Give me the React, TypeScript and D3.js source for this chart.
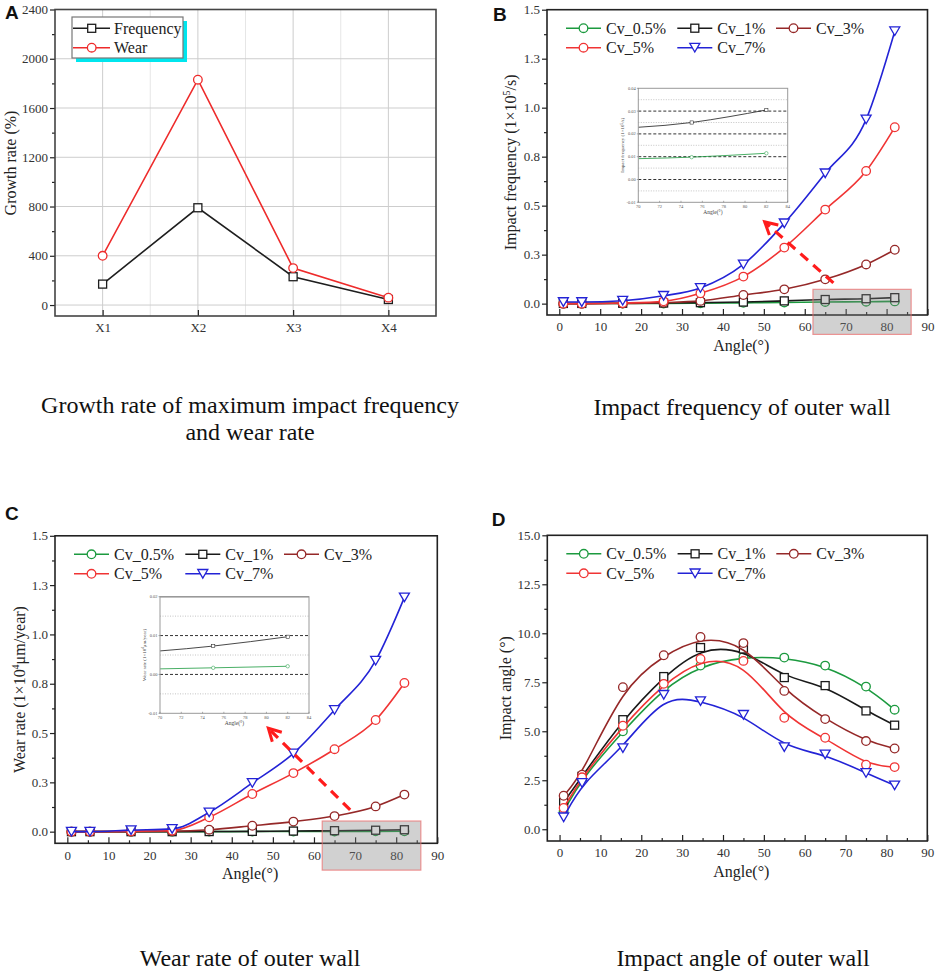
import { useEffect, useRef } from 'react';
import * as d3 from 'd3';

// ---------- panel A: growth rate ----------
const groups = ['X1', 'X2', 'X3', 'X4'];
const growthFrequency = [170, 790, 230, 45];
const growthWear = [400, 1830, 300, 60];
const growthTicks = [0, 400, 800, 1200, 1600, 2000, 2400];
const growthMinor = [200, 600, 1000, 1400, 1800, 2200];

// ---------- panels B-D: angle series ----------
const angles = [1, 5.5, 15.5, 25.5, 34.5, 45, 55, 65, 75, 82];
const angleTicks = [0, 10, 20, 30, 40, 50, 60, 70, 80, 90];
const angleMinor = [5, 15, 25, 35, 45, 55, 65, 75, 85];
const cvNames = ['Cv_0.5%', 'Cv_1%', 'Cv_3%', 'Cv_5%', 'Cv_7%'];

// impact frequency (1e5 /s)
const freqCv05 = [0, 0, 0.001, 0.001, 0.002, 0.004, 0.006, 0.0085, 0.0098, 0.0115];
const freqCv1 = [0.001, 0.001, 0.002, 0.003, 0.005, 0.008, 0.014, 0.021, 0.025, 0.0305];
const freqCv3 = [0, 0, 0.001, 0.005, 0.014, 0.044, 0.073, 0.124, 0.2, 0.275];
const freqCv5 = [0, 0, 0.003, 0.012, 0.053, 0.138, 0.286, 0.48, 0.677, 0.9];
const freqCv7 = [0.008, 0.008, 0.015, 0.04, 0.08, 0.2, 0.41, 0.665, 0.94, 1.39];

// wear rate (1e4 um/year)
const wearCv05 = [0, 0, 0, 0, 0.0002, 0.0005, 0.0009, 0.0012, 0.0017, 0.0021];
const wearCv1 = [0, 0, 0, 0, 0.0005, 0.0015, 0.003, 0.005, 0.0073, 0.0097];
const wearCv3 = [0, 0, 0, 0.002, 0.01, 0.03, 0.051, 0.079, 0.128, 0.188];
const wearCv5 = [0, 0, 0.002, 0.006, 0.073, 0.191, 0.297, 0.418, 0.566, 0.754];
const wearCv7 = [0, 0, 0.008, 0.014, 0.098, 0.247, 0.397, 0.617, 0.867, 1.188];

// impact angle (deg)
const angleCv05 = [0.92, 2.6, 5.0, 7.2, 8.35, 8.8, 8.76, 8.35, 7.28, 6.1];
const angleCv1 = [1.37, 2.7, 5.59, 7.79, 9.27, 9.2, 7.74, 7.33, 6.04, 5.31];
const angleCv3 = [1.71, 2.78, 7.25, 8.88, 9.81, 9.5, 7.06, 5.62, 4.5, 4.12];
const angleCv5 = [1.09, 2.65, 5.28, 7.42, 8.69, 8.59, 5.69, 4.67, 3.29, 3.17];
const angleCv7 = [0.61, 2.36, 4.14, 6.86, 6.54, 5.84, 4.19, 3.82, 2.87, 2.24];

const rateTicks = [0, 0.25, 0.5, 0.75, 1, 1.25, 1.5];
const rateTickLabels = ['0.0', '0.3', '0.5', '0.8', '1.0', '1.3', '1.5'];
const rateMinor = [0.125, 0.375, 0.625, 0.875, 1.125, 1.375];
const impactTicks = [0, 2.5, 5, 7.5, 10, 12.5, 15];
const impactTickLabels = ['0.0', '2.5', '5.0', '7.5', '10.0', '12.5', '15.0'];
const impactMinor = [1.25, 3.75, 6.25, 8.75, 11.25, 13.75];

// insets (zoom on 70-84 deg)
const insetAngleTicks = [70, 72, 74, 76, 78, 80, 82, 84];
const insetFreqTicks = [-0.01, 0, 0.01, 0.02, 0.03, 0.04];
const insetFreqLabels = ['-0.01', '0.00', '0.01', '0.02', '0.03', '0.04'];
const insetFreqMinor = [-0.005, 0.005, 0.015, 0.025, 0.035];
const insetWearTicks = [-0.01, 0, 0.01, 0.02];
const insetWearLabels = ['-0.01', '0.00', '0.01', '0.02'];
const insetWearMinor = [-0.005, 0.005, 0.015];

const cvColors = ['#1c9a3f', '#1a1a1a', '#952828', '#f03434', '#2323d6'];
const cvShapes = ['circle', 'square', 'circle', 'circle', 'triangle'];

const SERIF = '"Liberation Serif", "Times New Roman", serif';
const SANS = '"Liberation Sans", Arial, sans-serif';

type G = d3.Selection<SVGGElement, unknown, null, undefined>;
type Box = { l: number; t: number; r: number; b: number };

function marker(g: G, shape: string, cx: number, cy: number, color: string, s = 1) {
  if (shape === 'circle') {
    g.append('circle').attr('cx', cx).attr('cy', cy).attr('r', 4.3 * s)
      .attr('fill', '#fff').attr('stroke', color).attr('stroke-width', 1.3 * s);
  } else if (shape === 'square') {
    const h = 4 * s;
    g.append('rect').attr('x', cx - h).attr('y', cy - h).attr('width', 2 * h).attr('height', 2 * h)
      .attr('fill', '#fff').attr('stroke', color).attr('stroke-width', 1.3 * s);
  } else {
    const w = 5 * s;
    const h = 4.3 * s;
    g.append('path')
      .attr('d', `M${cx - w},${cy - h}L${cx + w},${cy - h}L${cx},${cy + h}Z`)
      .attr('fill', '#fff').attr('stroke', color).attr('stroke-width', 1.3 * s);
  }
}

function styleAxis(a: G) {
  a.select('.domain').remove();
  a.selectAll('line').attr('stroke', '#222').attr('stroke-width', 1.2);
  a.selectAll('text').attr('font-family', SERIF).attr('font-size', 13).attr('fill', '#333');
}

function drawAxes(
  g: G, box: Box,
  x: d3.ScaleLinear<number, number>, y: d3.ScaleLinear<number, number>,
  yTicks: number[], yLabels: string[], yMinor: number[],
  xTicks: number[], xLabels: string[], xMinor: number[], frame = '#222'
) {
  const left = g.append('g').attr('transform', `translate(${box.l},0)`)
    .call(d3.axisLeft(y).tickValues(yTicks).tickFormat((_, i) => yLabels[i])
      .tickSizeInner(5).tickSizeOuter(0).tickPadding(2));
  const leftMinor = g.append('g').attr('transform', `translate(${box.l},0)`)
    .call(d3.axisLeft(y).tickValues(yMinor).tickFormat(() => '').tickSizeInner(3).tickSizeOuter(0));
  const bottom = g.append('g').attr('transform', `translate(0,${box.b})`)
    .call(d3.axisBottom(x).tickValues(xTicks).tickFormat((_, i) => xLabels[i])
      .tickSizeInner(-6).tickSizeOuter(0).tickPadding(7));
  const bottomMinor = g.append('g').attr('transform', `translate(0,${box.b})`)
    .call(d3.axisBottom(x).tickValues(xMinor).tickFormat(() => '').tickSizeInner(-3).tickSizeOuter(0));
  [left, leftMinor, bottom, bottomMinor].forEach(styleAxis);
  g.append('rect').attr('x', box.l).attr('y', box.t)
    .attr('width', box.r - box.l).attr('height', box.b - box.t)
    .attr('fill', 'none').attr('stroke', frame).attr('stroke-width', 1.6);
}

function rotatedTitle(g: G, x: number, y: number, parts: [string, string?, string?]) {
  const t = g.append('text').attr('transform', `translate(${x},${y}) rotate(-90)`)
    .attr('text-anchor', 'middle').attr('font-family', SERIF).attr('font-size', 16).attr('fill', '#222');
  t.append('tspan').text(parts[0]);
  if (parts[1]) {
    t.append('tspan').attr('dy', -6).attr('font-size', 10).text(parts[1]);
    t.append('tspan').attr('dy', 6).text(parts[2] || '');
  }
  return t;
}

function letter(g: G, x: number, y: number, s: string) {
  g.append('text').attr('x', x).attr('y', y).attr('font-family', SANS)
    .attr('font-weight', 'bold').attr('font-size', 19).attr('fill', '#111').text(s);
}

function caption(g: G, x: number, y: number, s: string) {
  g.append('text').attr('x', x).attr('y', y).attr('text-anchor', 'middle')
    .attr('font-family', SERIF).attr('font-size', 24).attr('fill', '#111').text(s);
}

function drawGrowth(g: G) {
  const box: Box = { l: 55, t: 9.5, r: 436, b: 316 };
  const x = d3.scaleLinear().domain([0.5, 4.5]).range([box.l, box.r]);
  const y = d3.scaleLinear().domain([-89, 2400]).range([box.b, box.t]);
  const pos = groups.map((_, i) => i + 1);

  const grid = g.append('g');
  grid.selectAll('line.minor').data([1.5, 2.5, 3.5]).join('line').attr('class', 'minor')
    .attr('x1', (d) => x(d)).attr('x2', (d) => x(d)).attr('y1', box.t).attr('y2', box.b)
    .attr('stroke', '#e6e6e6').attr('stroke-width', 1);
  grid.selectAll('line.vx').data(pos).join('line').attr('class', 'vx')
    .attr('x1', (d) => x(d)).attr('x2', (d) => x(d)).attr('y1', box.t).attr('y2', box.b)
    .attr('stroke', '#cdcdcd').attr('stroke-width', 1);
  grid.selectAll('line.hy').data(growthTicks).join('line').attr('class', 'hy')
    .attr('x1', box.l).attr('x2', box.r).attr('y1', (d) => y(d)).attr('y2', (d) => y(d))
    .attr('stroke', '#cdcdcd').attr('stroke-width', 1);

  drawAxes(g, box, x, y, growthTicks, growthTicks.map(String), growthMinor, pos, groups, [], '#444');

  const line = d3.line<number>().x((_, i) => x(pos[i])).y((d) => y(d));
  const series = [
    { values: growthFrequency, color: '#1e1e1e', shape: 'square', name: 'Frequency' },
    { values: growthWear, color: '#ee2b2b', shape: 'circle', name: 'Wear' },
  ];
  series.forEach((s) => {
    g.append('path').datum(s.values).attr('d', line).attr('fill', 'none')
      .attr('stroke', s.color).attr('stroke-width', 1.6);
    s.values.forEach((v, i) => marker(g, s.shape, x(pos[i]), y(v), s.color));
  });

  // legend
  const lg = g.append('g');
  lg.append('rect').attr('x', 76).attr('y', 21).attr('width', 111).attr('height', 41).attr('fill', '#00e6ee');
  lg.append('rect').attr('x', 72).attr('y', 17).attr('width', 111).attr('height', 41)
    .attr('fill', '#fff').attr('stroke', '#777').attr('stroke-width', 1.2);
  series.forEach((s, i) => {
    const cy = 28.3 + i * 19.4;
    lg.append('line').attr('x1', 73).attr('x2', 110).attr('y1', cy).attr('y2', cy)
      .attr('stroke', s.color).attr('stroke-width', 1.6);
    marker(lg, s.shape, 91.7, cy, s.color);
    lg.append('text').attr('x', 114).attr('y', cy + 5.5).attr('font-family', SERIF)
      .attr('font-size', 16).attr('fill', '#222').text(s.name);
  });

  rotatedTitle(g, 16, 163, ['Growth rate (%)']);
  letter(g, 5, 18.5, 'A');
}

interface InsetCfg {
  box: Box;
  yDomain: [number, number];
  yTicks: number[];
  yLabels: string[];
  yMinor: number[];
  title: [string, string, string];
  solidTop?: boolean;
}

interface PanelCfg {
  id: string;
  box: Box;
  yDomain: [number, number];
  yTicks: number[];
  yLabels: string[];
  yMinor: number[];
  series: number[][];
  curve: d3.CurveFactory;
  title: [string, string?, string?];
  titleX: number;
  letter: [number, number, string];
  highlight?: { x: [number, number]; y: [number, number] };
  arrow?: { from: [number, number]; to: [number, number] };
  inset?: InsetCfg;
}

function drawInset(g: G, id: string, cfg: InsetCfg, series: number[][], curve: d3.CurveFactory) {
  const { box } = cfg;
  const x = d3.scaleLinear().domain([70, 84]).range([box.l, box.r]);
  const y = d3.scaleLinear().domain(cfg.yDomain).range([box.b, box.t]);
  const ig = g.append('g');
  ig.append('rect').attr('x', box.l).attr('y', box.t).attr('width', box.r - box.l)
    .attr('height', box.b - box.t).attr('fill', '#fff');

  ig.selectAll('line.mn').data(cfg.yMinor).join('line').attr('class', 'mn')
    .attr('x1', box.l).attr('x2', box.r).attr('y1', (d) => y(d)).attr('y2', (d) => y(d))
    .attr('stroke', '#b5b5b5').attr('stroke-width', 0.8).attr('stroke-dasharray', '1,1.5');
  const inner = cfg.yTicks.filter((d) => d > cfg.yDomain[0] && d < cfg.yDomain[1]);
  ig.selectAll('line.mj').data(inner).join('line').attr('class', 'mj')
    .attr('x1', box.l).attr('x2', box.r).attr('y1', (d) => y(d)).attr('y2', (d) => y(d))
    .attr('stroke', '#333').attr('stroke-width', 1).attr('stroke-dasharray', '3,2');

  const clipId = `clip-${id}`;
  ig.append('clipPath').attr('id', clipId).append('rect')
    .attr('x', box.l).attr('y', box.t).attr('width', box.r - box.l).attr('height', box.b - box.t);
  const line = d3.line<number>().x((_, i) => x(angles[i])).y((d) => y(d)).curve(curve);
  const shown = [1, 0];
  shown.forEach((k) => {
    ig.append('path').datum(series[k]).attr('d', line).attr('fill', 'none')
      .attr('clip-path', `url(#${clipId})`)
      .attr('stroke', cvColors[k]).attr('stroke-width', 0.8);
    series[k].forEach((v, i) => {
      if (angles[i] >= 70) marker(ig, cvShapes[k], x(angles[i]), y(v), cvColors[k], 0.4);
    });
  });

  ig.append('rect').attr('x', box.l).attr('y', box.t).attr('width', box.r - box.l)
    .attr('height', box.b - box.t).attr('fill', 'none').attr('stroke', '#999').attr('stroke-width', 1);
  if (cfg.solidTop) {
    ig.append('line').attr('x1', box.l).attr('x2', box.r).attr('y1', box.t).attr('y2', box.t)
      .attr('stroke', '#999').attr('stroke-width', 1.6);
  }

  const tick = (sel: G) => sel.attr('font-family', SERIF).attr('font-size', 4.5).attr('fill', '#555');
  cfg.yTicks.forEach((d, i) => {
    ig.append('line').attr('x1', box.l - 1.5).attr('x2', box.l).attr('y1', y(d)).attr('y2', y(d))
      .attr('stroke', '#777').attr('stroke-width', 0.6);
    tick(ig.append('text').attr('x', box.l - 2.5).attr('y', y(d) + 1.5).attr('text-anchor', 'end')
      .text(cfg.yLabels[i]) as unknown as G);
  });
  insetAngleTicks.forEach((d) => {
    ig.append('line').attr('x1', x(d)).attr('x2', x(d)).attr('y1', box.b).attr('y2', box.b - 1.5)
      .attr('stroke', '#777').attr('stroke-width', 0.6);
    tick(ig.append('text').attr('x', x(d)).attr('y', box.b + 5.5).attr('text-anchor', 'middle')
      .text(String(d)) as unknown as G);
  });
  ig.append('text').attr('x', (box.l + box.r) / 2).attr('y', box.b + 12).attr('text-anchor', 'middle')
    .attr('font-family', SERIF).attr('font-size', 5.5).attr('fill', '#444').text('Angle(°)');
  const t = ig.append('text')
    .attr('transform', `translate(${box.l - 14},${(box.t + box.b) / 2}) rotate(-90)`)
    .attr('text-anchor', 'middle').attr('font-family', SERIF).attr('font-size', 5).attr('fill', '#444');
  t.append('tspan').text(cfg.title[0]);
  t.append('tspan').attr('dy', -1.8).attr('font-size', 3.2).text(cfg.title[1]);
  t.append('tspan').attr('dy', 1.8).text(cfg.title[2]);
}

function drawAnglePanel(g: G, cfg: PanelCfg) {
  const { box } = cfg;
  const x = d3.scaleLinear().domain([-3, 90]).range([box.l, box.r]);
  const y = d3.scaleLinear().domain(cfg.yDomain).range([box.b, box.t]);

  drawAxes(g, box, x, y, cfg.yTicks, cfg.yLabels, cfg.yMinor,
    angleTicks, angleTicks.map(String), angleMinor);

  const line = d3.line<number>().x((_, i) => x(angles[i])).y((d) => y(d)).curve(cfg.curve);
  cfg.series.forEach((vals, k) => {
    g.append('path').datum(vals).attr('d', line).attr('fill', 'none')
      .attr('stroke', cvColors[k]).attr('stroke-width', 1.6);
    vals.forEach((v, i) => marker(g, cvShapes[k], x(angles[i]), y(v), cvColors[k]));
  });

  // legend
  const cols = [19, 130.3, 229];
  const slots = [[0, 0], [1, 0], [2, 0], [0, 1], [1, 1]];
  cvNames.forEach((name, k) => {
    const lx = box.l + cols[slots[k][0]];
    const ly = box.t + 18.5 + slots[k][1] * 19.5;
    g.append('line').attr('x1', lx).attr('x2', lx + 35).attr('y1', ly).attr('y2', ly)
      .attr('stroke', cvColors[k]).attr('stroke-width', 1.6);
    marker(g, cvShapes[k], lx + 17.5, ly, cvColors[k]);
    g.append('text').attr('x', lx + 40).attr('y', ly + 5.5).attr('font-family', SERIF)
      .attr('font-size', 16).attr('fill', '#222').text(name);
  });

  if (cfg.inset) drawInset(g, cfg.id, cfg.inset, cfg.series, cfg.curve);

  if (cfg.highlight) {
    const h = cfg.highlight;
    g.append('rect').attr('x', x(h.x[0])).attr('y', y(h.y[1]))
      .attr('width', x(h.x[1]) - x(h.x[0])).attr('height', y(h.y[0]) - y(h.y[1]))
      .attr('fill', 'rgba(128,128,128,0.36)').attr('stroke', 'rgba(235,110,110,0.7)').attr('stroke-width', 1.2);
  }
  if (cfg.arrow) {
    const [x0, y0] = [x(cfg.arrow.from[0]), y(cfg.arrow.from[1])];
    const [x1, y1] = [x(cfg.arrow.to[0]), y(cfg.arrow.to[1])];
    g.append('line').attr('x1', x0).attr('y1', y0).attr('x2', x1).attr('y2', y1)
      .attr('stroke', '#ff1c1c').attr('stroke-width', 3.2).attr('stroke-dasharray', '10,7');
    const a = Math.atan2(y0 - y1, x0 - x1);
    const len = 14;
    const spread = 0.5;
    const p1 = [x1 + len * Math.cos(a - spread), y1 + len * Math.sin(a - spread)];
    const p2 = [x1 + len * Math.cos(a + spread), y1 + len * Math.sin(a + spread)];
    g.append('path').attr('d', `M${p1[0]},${p1[1]}L${x1},${y1}L${p2[0]},${p2[1]}`)
      .attr('fill', 'none').attr('stroke', '#ff1c1c').attr('stroke-width', 3).attr('stroke-linejoin', 'miter');
  }

  rotatedTitle(g, cfg.titleX, (box.t + box.b) / 2, cfg.title);
  g.append('text').attr('x', (box.l + box.r) / 2 + 4).attr('y', box.b + 36).attr('text-anchor', 'middle')
    .attr('font-family', SERIF).attr('font-size', 16).attr('fill', '#222').text('Angle(°)');
  letter(g, cfg.letter[0], cfg.letter[1], cfg.letter[2]);
}

export default function App() {
  const svgRef = useRef<SVGSVGElement>(null);

  useEffect(() => {
    if (!svgRef.current) return;
    const svg = d3.select(svgRef.current);
    svg.selectAll('*').remove();
    const root = svg.append('g') as unknown as G;

    drawGrowth(root);

    drawAnglePanel(root, {
      id: 'b',
      box: { l: 547, t: 9.7, r: 927.5, b: 315 },
      yDomain: [-0.058, 1.5],
      yTicks: rateTicks, yLabels: rateTickLabels, yMinor: rateMinor,
      series: [freqCv05, freqCv1, freqCv3, freqCv5, freqCv7],
      curve: d3.curveMonotoneX,
      title: ['Impact frequency (1×10', '5', '/s)'],
      titleX: 516,
      letter: [493, 20.7, 'B'],
      highlight: { x: [62, 86], y: [-0.157, 0.073] },
      arrow: { from: [67, 0.106], to: [50.2, 0.417] },
      inset: {
        box: { l: 638.3, t: 88.3, r: 787.7, b: 202.3 },
        yDomain: [-0.01, 0.04],
        yTicks: insetFreqTicks, yLabels: insetFreqLabels, yMinor: insetFreqMinor,
        title: ['Impact frequency (1×10', '5', '/s)'],
      },
    });

    drawAnglePanel(root, {
      id: 'c',
      box: { l: 55, t: 535.8, r: 437.3, b: 843.3 },
      yDomain: [-0.059, 1.5],
      yTicks: rateTicks, yLabels: rateTickLabels, yMinor: rateMinor,
      series: [wearCv05, wearCv1, wearCv3, wearCv5, wearCv7],
      curve: d3.curveMonotoneX,
      title: ['Wear rate (1×10', '4', 'μm/year)'],
      titleX: 25,
      letter: [5, 520, 'C'],
      highlight: { x: [62, 86], y: [-0.195, 0.054] },
      arrow: { from: [68.8, 0.11], to: [48.9, 0.524] },
      inset: {
        box: { l: 160, t: 596.7, r: 309, b: 713.3 },
        yDomain: [-0.01, 0.02],
        yTicks: insetWearTicks, yLabels: insetWearLabels, yMinor: insetWearMinor,
        title: ['Wear rate (1×10', '4', 'μm/year)'],
        solidTop: true,
      },
    });

    drawAnglePanel(root, {
      id: 'd',
      box: { l: 547.3, t: 535.3, r: 927.3, b: 841 },
      yDomain: [-0.6, 15],
      yTicks: impactTicks, yLabels: impactTickLabels, yMinor: impactMinor,
      series: [angleCv05, angleCv1, angleCv3, angleCv5, angleCv7],
      curve: d3.curveBasis,
      title: ['Impact angle (°)'],
      titleX: 511,
      letter: [491.7, 525.7, 'D'],
    });

    caption(root, 250, 413, 'Growth rate of maximum impact frequency');
    caption(root, 250, 440, 'and wear rate');
    caption(root, 742, 415, 'Impact frequency of outer wall');
    caption(root, 250, 966, 'Wear rate of outer wall');
    caption(root, 743, 966, 'Impact angle of outer wall');
  }, []);

  return (
    <svg
      ref={svgRef}
      width={941}
      height={975}
      style={{ position: 'absolute', left: 0, top: 0, background: '#fff' }}
    />
  );
}
